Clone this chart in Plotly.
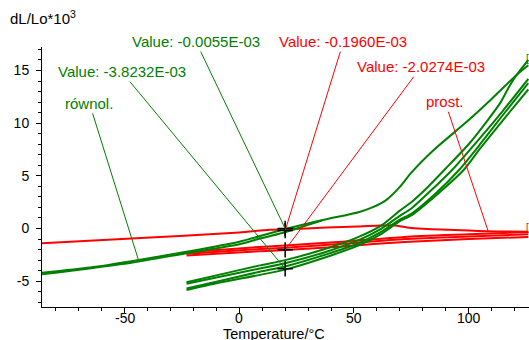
import plotly.graph_objects as go

# ---------------- data ----------------
# upper green curve (heating) and its close companion
g1_t = [-86, -65, -47, -23, 0, 13, 20, 38, 52, 58, 64, 70, 75, 85, 99, 110, 121, 126]
g1_y = [-4.2, -3.7, -3.1, -2.2, -1.25, -0.48, -0.05, 0.88, 1.55, 2.0, 2.69, 3.95, 5.3, 7.5, 10.1, 12.3, 14.6, 15.5]
g1b_t = [-86, -47, -23, 0, 9, 20, 28, 36]
g1b_y = [-4.35, -3.25, -2.35, -1.5, -0.95, -0.35, 0.2, 0.76]

# lower green curves
l1_t = [-23, -10, 9, 20, 38, 52, 62, 70, 75, 82, 90, 100, 108, 114, 118, 121, 126]
l1_y = [-5.1, -4.45, -3.5, -3.0, -1.9, -0.8, 0.3, 1.7, 2.5, 3.9, 5.7, 8.0, 10.2, 12.0, 13.6, 14.6, 16.0]
l2_t = [-23, -10, 9, 20, 38, 52, 62, 70, 75, 85, 93, 105, 115, 126]
l2_y = [-5.25, -4.65, -3.8, -3.3, -2.2, -1.1, 0.0, 1.2, 1.9, 3.9, 5.6, 8.6, 11.2, 14.2]
l3_t = [-23, -10, 9, 20, 38, 52, 62, 70, 75, 85, 96, 105, 115, 126]
l3_y = [-5.7, -5.05, -4.1, -3.6, -2.45, -1.4, -0.3, 0.85, 1.4, 3.2, 5.6, 8.0, 10.8, 13.8]
l4_t = [-23, -10, 9, 20, 38, 52, 62, 70, 75, 85, 98, 105, 115, 126]
l4_y = [-5.85, -5.2, -4.4, -3.9, -2.7, -1.6, -0.5, 0.7, 1.25, 3.0, 5.6, 7.6, 10.3, 13.2]

# red curves
r1_t = [-86, -47, 0, 13, 20, 38, 52, 60, 67, 70, 74, 80, 88, 100, 108, 117, 126]
r1_y = [-1.4, -0.95, -0.38, -0.12, -0.08, 0.1, 0.2, 0.27, 0.31, 0.22, 0.08, -0.02, -0.1, -0.2, -0.26, -0.29, -0.3]
r2_t = [-23, 9, 20, 45, 72, 100, 126]
r2a_y = [-2.25, -1.75, -1.62, -1.25, -0.8, -0.55, -0.32]
r2b_y = [-2.4, -1.95, -1.82, -1.45, -1.0, -0.75, -0.55]
r2c_y = [-2.55, -2.16, -2.05, -1.7, -1.27, -1.0, -0.8]

# cursor markers at 20 °C
marker_t = [20, 20, 20, 20]
marker_y = [-0.0055, -0.196, -2.0274, -3.8232]

# annotation labels
ann_text = ["Value: -0.0055E-03", "Value: -0.1960E-03", "Value: -2.0274E-03",
            "Value: -3.8232E-03", "równol.", "prost."]
ann_color = ["#008000", "#ff0000", "#ff0000", "#008000", "#008000", "#ff0000"]
ann_head_t = [20, 20, 20, 20, -44, 108.5]
ann_head_y = [-0.0055, -0.196, -2.0274, -3.8232, -2.95, -0.25]
ann_text_t = [-18.9, 45.4, 79.3, -51.3, -65.3, 89.7]
ann_text_y = [17.74, 17.74, 15.36, 14.89, 11.88, 12.03]

x_ticks = [-50, 0, 50, 100]
y_ticks = [-5, 0, 5, 10, 15]

GREEN = "#008000"
RED = "#ff0000"
FONT = "Liberation Sans, Arial, sans-serif"

fig = go.Figure()

def add(t, y, color, w=2):
    fig.add_trace(go.Scatter(x=t, y=y, mode="lines", line=dict(color=color, width=w, shape="spline", smoothing=0.6),
                             hoverinfo="skip", showlegend=False))

add(r1_t, r1_y, RED)
add(r2_t, r2a_y, RED)
add(r2_t, r2b_y, RED)
add(r2_t, r2c_y, RED)
add(g1b_t, g1b_y, GREEN)
add(g1_t, g1_y, GREEN)
add(l1_t, l1_y, GREEN)
add(l2_t, l2_y, GREEN)
add(l3_t, l3_y, GREEN)
add(l4_t, l4_y, GREEN)

fig.add_trace(go.Scatter(x=marker_t, y=marker_y, mode="markers",
                         marker=dict(symbol="cross-thin", size=11, line=dict(color="black", width=1.5)),
                         hoverinfo="skip", showlegend=False))

for txt, col, hx, hy, tx, ty in zip(ann_text, ann_color, ann_head_t, ann_head_y, ann_text_t, ann_text_y):
    fig.add_annotation(x=hx, y=hy, ax=tx, ay=ty, xref="x", yref="y", axref="x", ayref="y",
                       text=txt, showarrow=True, arrowhead=0, arrowwidth=1, arrowcolor=col,
                       font=dict(family=FONT, size=15, color=col))

# small cut-off curve tags at right edge
fig.add_annotation(x=1.0, y=16.1, xref="paper", yref="y", xanchor="left", xshift=-5, text="[1]",
                   showarrow=False, font=dict(family=FONT, size=10, color=GREEN))
fig.add_annotation(x=1.0, y=0.1, xref="paper", yref="y", xanchor="left", xshift=-5, text="[3]",
                   showarrow=False, font=dict(family=FONT, size=10, color=RED))

# x tick labels placed just under the ticks
for v in x_ticks:
    fig.add_annotation(x=v, y=0, xref="x", yref="paper", xanchor="center", yanchor="middle",
                       yshift=-11, text=str(v), showarrow=False, borderpad=0,
                       font=dict(family=FONT, size=14, color="black"))

fig.add_annotation(x=-0.0698, y=1.1117, xref="paper", yref="paper", xanchor="left", yanchor="middle",
                   text="dL/Lo*10<sup>3</sup>", showarrow=False, font=dict(family=FONT, size=15, color="black"))
fig.add_annotation(x=0.476, y=-0.102, xref="paper", yref="paper", xanchor="center", yanchor="middle",
                   text="Temperature/°C", showarrow=False, borderpad=0,
                   font=dict(family=FONT, size=14.5, color="black"))

axis_common = dict(showline=True, linecolor="black", linewidth=1, showgrid=False, zeroline=False,
                   ticks="outside", ticklen=5, tickcolor="black", tickwidth=1,
                   tickfont=dict(family=FONT, size=14, color="black"))

fig.update_xaxes(range=[-86.0, 126.3], tickvals=x_ticks, showticklabels=False,
                 minor=dict(dtick=10, tick0=0, ticks="outside", ticklen=3, tickcolor="black"),
                 **axis_common)
fig.update_yaxes(range=[-7.45, 17.23], tickvals=y_ticks, ticktext=[str(v) for v in y_ticks],
                 minor=dict(dtick=1, tick0=0, ticks="outside", ticklen=3, tickcolor="black"),
                 ticklabelstandoff=4, **axis_common)

fig.update_layout(width=529, height=340, margin=dict(l=42, r=0, t=47, b=33),
                  paper_bgcolor="white", plot_bgcolor="white")

fig.write_html("out.html")
